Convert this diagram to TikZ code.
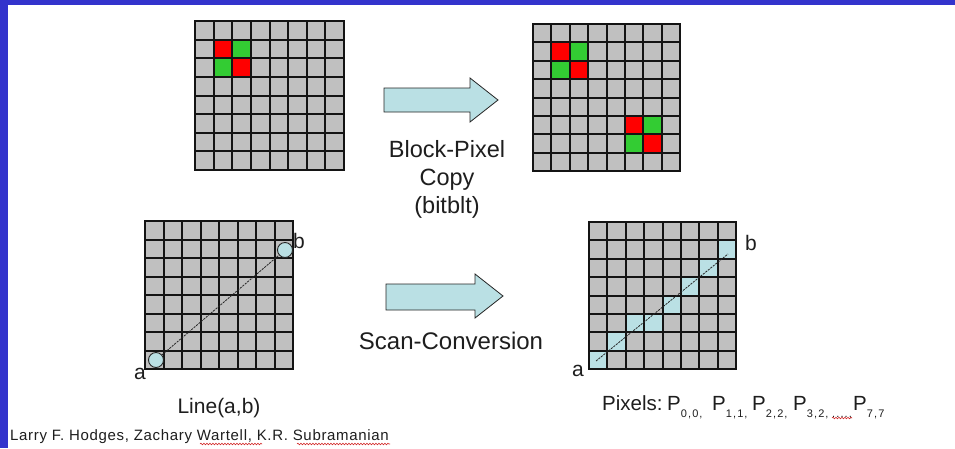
\documentclass[tikz,border=0pt]{standalone}
\usepackage{fontspec}
\setmainfont{Liberation Sans}
\usetikzlibrary{decorations.pathmorphing}

\definecolor{framebar}{RGB}{51,51,204}
\definecolor{cellgray}{RGB}{192,192,192}
\definecolor{cellred}{RGB}{255,0,0}
\definecolor{cellgreen}{RGB}{51,204,51}
\definecolor{cellblue}{RGB}{186,224,228}
\definecolor{inktext}{RGB}{30,30,30}
\definecolor{spellred}{RGB}{210,40,40}

% subscript set small, spaced out and lowered below the baseline
\newcommand\pxsub[1]{\raisebox{-7pt}{\fontsize{11}{11}\selectfont\addfontfeatures{LetterSpace=10}#1}}

\tikzset{
  gridat/.style n args={3}{shift={(#1,#2)}, x=#3pt, y=-#3pt},
  gridline/.style={draw=black!92, line width=2pt, line cap=rect},
  endpoint/.style={circle, draw=black!85, fill=cellblue, minimum size=15pt,
    inner sep=0pt, line width=0.9pt},
  sampleline/.style={draw=black!85, line width=0.8pt, dash pattern=on 2.2pt off 1pt},
  fatarrow/.style={draw=black!85, fill=cellblue, line width=0.8pt, line join=miter},
  caption/.style={text=inktext, inner sep=0pt, anchor=base},
  spellmark/.style={draw=spellred, line width=0.6pt,
    decorate, decoration={snake, amplitude=0.8pt, segment length=3pt}}
}

% 8x8 raster ruling, snapped to whole units: origin x, origin y, cell size
\newcommand\gridrules[3]{%
  \pgfmathsetmacro\gxa{round(#1)}%
  \pgfmathsetmacro\gya{round(#2)}%
  \pgfmathsetmacro\gxb{round(#1+8*#3)}%
  \pgfmathsetmacro\gyb{round(#2+8*#3)}%
  \foreach \k in {0,...,8} {
    \pgfmathsetmacro\gx{round(#1+\k*#3)}
    \pgfmathsetmacro\gy{round(#2+\k*#3)}
    \draw[gridline] (\gx,\gya) -- (\gx,\gyb);
    \draw[gridline] (\gxa,\gy) -- (\gxb,\gy);
  }%
}

\begin{document}
\begin{tikzpicture}[x=1pt, y=-1pt]
\useasboundingbox (0,0) rectangle (955,448);
\fill[white] (0,0) rectangle (955,448);

% slide frame bars
\fill[framebar] (0,0) rectangle (955,5);
\fill[framebar] (0,0) rectangle (8,448);

% source raster with a 2x2 block
\begin{scope}[gridat={195}{21}{18.625}]
  \fill[cellgray] (0,0) rectangle (8,8);
  \fill[cellred]   (1,1) rectangle +(1,1);
  \fill[cellgreen] (2,1) rectangle +(1,1);
  \fill[cellgreen] (1,2) rectangle +(1,1);
  \fill[cellred]   (2,2) rectangle +(1,1);
\end{scope}
\gridrules{195}{21}{18.625}

% destination raster: block copied to a second place
\begin{scope}[gridat={533}{24}{18.375}]
  \fill[cellgray] (0,0) rectangle (8,8);
  \fill[cellred]   (1,1) rectangle +(1,1);
  \fill[cellgreen] (2,1) rectangle +(1,1);
  \fill[cellgreen] (1,2) rectangle +(1,1);
  \fill[cellred]   (2,2) rectangle +(1,1);
  \fill[cellred]   (5,5) rectangle +(1,1);
  \fill[cellgreen] (6,5) rectangle +(1,1);
  \fill[cellgreen] (5,6) rectangle +(1,1);
  \fill[cellred]   (6,6) rectangle +(1,1);
\end{scope}
\gridrules{533}{24}{18.375}

% ideal line on a raster
\begin{scope}[gridat={145}{221}{18.5}]
  \fill[cellgray] (0,0) rectangle (8,8);
\end{scope}
\gridrules{145}{221}{18.5}
\node[endpoint] (ptA) at (156,360) {};
\node[endpoint] (ptB) at (285,250) {};
\draw[sampleline] (ptA) -- (ptB);
\node[caption] (labA) at (140,379) {\fontsize{21}{21}\selectfont a};
\node[caption] (labB) at (299,248) {\fontsize{21}{21}\selectfont b};

% scan-converted line
\begin{scope}[gridat={589}{222}{18.4}]
  \fill[cellgray] (0,0) rectangle (8,8);
  \foreach \c/\r in {0/7,1/6,2/5,3/5,4/4,5/3,6/2,7/1}
    \fill[cellblue] (\c,\r) rectangle +(1,1);
\end{scope}
\gridrules{589}{222}{18.4}
\coordinate (scanA) at (596,361);
\coordinate (scanB) at (728,254);
\draw[sampleline] (scanA) -- (scanB);
\node[caption] (labA2) at (578,376) {\fontsize{21}{21}\selectfont a};
\node[caption] (labB2) at (751,250) {\fontsize{21}{21}\selectfont b};

% operation arrows
\draw[fatarrow] (384,88) -- (470,88) -- (470,78) -- (498,100) -- (470,122)
  -- (470,112) -- (384,112) -- cycle;
\draw[fatarrow] (386,284) -- (475,284) -- (475,274) -- (503,296) -- (475,318)
  -- (475,310) -- (386,310) -- cycle;

% captions
\node[caption] (copyT1) at (447,157) {\fontsize{23.5}{23.5}\selectfont Block-Pixel};
\node[caption] (copyT2) at (447,185) {\fontsize{23.5}{23.5}\selectfont Copy};
\node[caption] (copyT3) at (447,213) {\fontsize{23.5}{23.5}\selectfont (bitblt)};
\node[caption] (scanT) at (451,349) {\fontsize{24}{24}\selectfont Scan-Conversion};
\node[caption] (lineT) at (219,413) {\fontsize{21}{21}\selectfont Line(a,b)};

% pixel list
\begin{scope}[every node/.style={caption, anchor=base west}]
  \node (pixT) at (602,410) {\fontsize{20.5}{20.5}\selectfont Pixels:};
  \node (pix0) at (667,410) {\fontsize{20.5}{20.5}\selectfont P\pxsub{0,0,}};
  \node (pix1) at (712,410) {\fontsize{20.5}{20.5}\selectfont P\pxsub{1,1,}};
  \node (pix2) at (752,410) {\fontsize{20.5}{20.5}\selectfont P\pxsub{2,2,}};
  \node (pix3) at (793,410) {\fontsize{20.5}{20.5}\selectfont P\pxsub{3,2,}};
  \node (pixd) at (832,410) {\fontsize{20.5}{20.5}\selectfont \pxsub{....,}};
  \node (pix7) at (853,410) {\fontsize{20.5}{20.5}\selectfont P\pxsub{7,7}};
\end{scope}

% author line
\node[caption, anchor=base west] (authors) at (10,440)
  {\fontsize{15}{15}\selectfont\addfontfeatures{LetterSpace=4.5}Larry F. Hodges, Zachary Wartell, K.R. Subramanian};

% spell-check squiggles
\coordinate (sq1a) at (832,418); \coordinate (sq1b) at (852,418);
\draw[spellmark] (sq1a) -- (sq1b);
\coordinate (sq2a) at (200,444); \coordinate (sq2b) at (262,444);
\draw[spellmark] (sq2a) -- (sq2b);
\coordinate (sq3a) at (297,444); \coordinate (sq3b) at (390,444);
\draw[spellmark] (sq3a) -- (sq3b);
\end{tikzpicture}
\end{document}
